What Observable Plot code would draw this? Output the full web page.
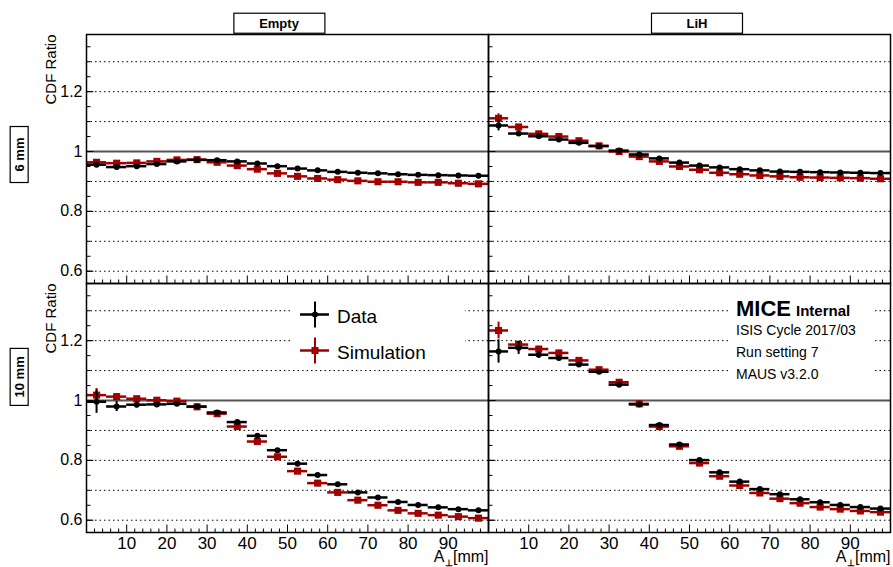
<!DOCTYPE html>
<html>
<head>
<meta charset="utf-8">
<script src="https://cdn.jsdelivr.net/npm/d3@7"></script>
<script src="https://cdn.jsdelivr.net/npm/@observablehq/plot@0.6"></script>
<style>
  html, body { margin: 0; padding: 0; background: #fff; }
  svg { display: block; }
</style>
</head>
<body>
<div id="chart"></div>
<script>
// ---------------- data ----------------
const binCenters = [2.5, 7.5, 12.5, 17.5, 22.5, 27.5, 32.5, 37.5, 42.5, 47.5,
                    52.5, 57.5, 62.5, 67.5, 72.5, 77.5, 82.5, 87.5, 92.5, 97.5];
const binWidth = 5;
const targets = ["Empty", "LiH"];
const amplitudes = ["6 mm", "10 mm"];
const seriesNames = ["Data", "Simulation"];

const emptyData6 = [0.956, 0.948, 0.951, 0.958, 0.967, 0.972, 0.971, 0.967, 0.960, 0.951,
                    0.943, 0.937, 0.932, 0.929, 0.927, 0.924, 0.922, 0.921, 0.920, 0.919];
const emptySim6  = [0.964, 0.961, 0.962, 0.967, 0.972, 0.973, 0.964, 0.953, 0.941, 0.927,
                    0.917, 0.910, 0.906, 0.902, 0.899, 0.899, 0.897, 0.897, 0.894, 0.892];
const lihData6   = [1.087, 1.060, 1.051, 1.040, 1.029, 1.018, 1.003, 0.990, 0.977, 0.963,
                    0.953, 0.947, 0.941, 0.937, 0.933, 0.932, 0.931, 0.930, 0.929, 0.928];
const lihSim6    = [1.111, 1.082, 1.059, 1.050, 1.036, 1.019, 1.000, 0.983, 0.967, 0.950,
                    0.939, 0.929, 0.924, 0.920, 0.917, 0.914, 0.913, 0.912, 0.911, 0.909];
const emptyData10 = [0.996, 0.980, 0.986, 0.987, 0.989, 0.980, 0.960, 0.928, 0.882, 0.834,
                     0.789, 0.751, 0.720, 0.693, 0.676, 0.661, 0.651, 0.643, 0.637, 0.633];
const emptySim10  = [1.018, 1.013, 1.006, 1.001, 0.998, 0.979, 0.956, 0.913, 0.863, 0.812,
                     0.764, 0.724, 0.693, 0.667, 0.650, 0.633, 0.623, 0.617, 0.612, 0.607];
const lihData10   = [1.164, 1.176, 1.153, 1.142, 1.120, 1.096, 1.053, 0.987, 0.918, 0.853,
                     0.801, 0.760, 0.729, 0.704, 0.687, 0.670, 0.660, 0.651, 0.644, 0.639];
const lihSim10    = [1.234, 1.187, 1.172, 1.159, 1.134, 1.103, 1.061, 0.989, 0.913, 0.847,
                     0.791, 0.747, 0.716, 0.691, 0.672, 0.657, 0.644, 0.637, 0.631, 0.627];

const emptyDataErr6 = [0.008, 0.006, 0.005, 0.004, 0.004, 0.004, 0.003, 0.003, 0.003, 0.003,
                       0.003, 0.003, 0.003, 0.003, 0.003, 0.003, 0.003, 0.003, 0.003, 0.003];
const emptySimErr6  = [0.006, 0.005, 0.004, 0.004, 0.003, 0.003, 0.003, 0.003, 0.003, 0.003,
                       0.003, 0.003, 0.003, 0.003, 0.003, 0.003, 0.003, 0.003, 0.003, 0.003];
const lihDataErr6   = [0.018, 0.009, 0.006, 0.005, 0.004, 0.004, 0.004, 0.003, 0.003, 0.003,
                       0.003, 0.003, 0.003, 0.003, 0.003, 0.003, 0.003, 0.003, 0.003, 0.003];
const lihSimErr6    = [0.015, 0.008, 0.006, 0.005, 0.004, 0.004, 0.003, 0.003, 0.003, 0.003,
                       0.003, 0.003, 0.003, 0.003, 0.003, 0.003, 0.003, 0.003, 0.003, 0.003];
const emptyDataErr10 = [0.039, 0.017, 0.010, 0.008, 0.006, 0.005, 0.005, 0.004, 0.004, 0.004,
                        0.004, 0.004, 0.004, 0.004, 0.004, 0.004, 0.004, 0.004, 0.004, 0.004];
const emptySimErr10  = [0.022, 0.010, 0.007, 0.006, 0.005, 0.004, 0.004, 0.004, 0.004, 0.004,
                        0.004, 0.004, 0.004, 0.004, 0.004, 0.004, 0.004, 0.004, 0.004, 0.004];
const lihDataErr10   = [0.039, 0.022, 0.012, 0.009, 0.007, 0.006, 0.005, 0.005, 0.004, 0.004,
                        0.004, 0.004, 0.004, 0.004, 0.004, 0.004, 0.004, 0.004, 0.004, 0.004];
const lihSimErr10    = [0.028, 0.011, 0.008, 0.007, 0.006, 0.005, 0.005, 0.004, 0.004, 0.004,
                        0.004, 0.004, 0.004, 0.004, 0.004, 0.004, 0.004, 0.004, 0.004, 0.004];

const yLabelTicks = [0.6, 0.8, 1, 1.2];
const yMinorTicks = [0.6, 0.65, 0.7, 0.75, 0.8, 0.85, 0.9, 0.95, 1.0, 1.05, 1.1, 1.15, 1.2, 1.25, 1.3, 1.35];
const gridValues = [0.6, 0.7, 0.8, 0.9, 1.1, 1.2, 1.3];
const xLabelTicks = [10, 20, 30, 40, 50, 60, 70, 80, 90];
const xMinorTicks = [2, 4, 6, 8, 12, 14, 16, 18, 22, 24, 26, 28, 32, 34, 36, 38, 42, 44, 46, 48,
                     52, 54, 56, 58, 62, 64, 66, 68, 72, 74, 76, 78, 82, 84, 86, 88, 92, 94, 96, 98];
const annotationLines = ["ISIS Cycle 2017/03", "Run setting 7", "MAUS v3.2.0"];

// ---------------- table ----------------
const panels = [
  {target: "Empty", amp: "6 mm",  data: emptyData6,  dataErr: emptyDataErr6,  sim: emptySim6,  simErr: emptySimErr6},
  {target: "LiH",   amp: "6 mm",  data: lihData6,    dataErr: lihDataErr6,    sim: lihSim6,    simErr: lihSimErr6},
  {target: "Empty", amp: "10 mm", data: emptyData10, dataErr: emptyDataErr10, sim: emptySim10, simErr: emptySimErr10},
  {target: "LiH",   amp: "10 mm", data: lihData10,   dataErr: lihDataErr10,   sim: lihSim10,   simErr: lihSimErr10}
];
const rows = [];
for (const p of panels) {
  for (const [series, vals, errs] of [["Data", p.data, p.dataErr], ["Simulation", p.sim, p.simErr]]) {
    binCenters.forEach((c, i) => rows.push({
      target: p.target, amp: p.amp, series,
      x: c, lo: c - binWidth / 2, hi: c + binWidth / 2,
      y: vals[i], err: errs[i]
    }));
  }
}
const dataRows = rows.filter(d => d.series === "Data");
const simRows = rows.filter(d => d.series === "Simulation");
const yLabelRows = amplitudes.flatMap(a => yLabelTicks.map(v => ({amp: a, target: "Empty", v})));
const xLabelRows = targets.flatMap(t => xLabelTicks.map(v => ({amp: "10 mm", target: t, v})));

// ---------------- layout ----------------
const W = 893, H = 567, mL = 85, mR = 3, mT = 33, mB = 35;
const colW = (W - mL - mR) / 2, rowH = (H - mT - mB) / 2;
const FONT = "'Liberation Sans', Arial, Helvetica, sans-serif";
const RED = "#a00000";

const errorBars = (rowsIn, color) => [
  Plot.ruleY(rowsIn, {fx: "target", fy: "amp", y: "y", x1: "lo", x2: "hi", stroke: color, strokeWidth: 2.5}),
  Plot.ruleX(rowsIn, {fx: "target", fy: "amp", x: "x", y1: d => d.y - d.err, y2: d => d.y + d.err, stroke: color, strokeWidth: 2})
];

const plot = Plot.plot({
  width: W, height: H,
  marginLeft: mL, marginRight: mR, marginTop: mT, marginBottom: mB,
  style: {fontFamily: FONT, fontSize: "16px", color: "#000", background: "#fff"},
  fx: {domain: targets, padding: 0, axis: null},
  fy: {domain: amplitudes, padding: 0, axis: null},
  x: {domain: [0, 100], axis: null},
  y: {domain: [0.559, 1.391], axis: null},
  marks: [
    Plot.ruleY(gridValues, {y: d => d, stroke: "#000", strokeWidth: 1, strokeDasharray: "1.5,3"}),
    Plot.ruleY([1], {y: d => d, stroke: "#555", strokeWidth: 2}),
    // inward ticks in every panel
    Plot.tickY(yMinorTicks, {y: d => d, insetRight: colW - 5, stroke: "#000", strokeWidth: 1}),
    Plot.tickY(yLabelTicks, {y: d => d, insetRight: colW - 8, stroke: "#000", strokeWidth: 1}),
    Plot.tickX(xMinorTicks, {x: d => d, insetTop: rowH - 4, stroke: "#000", strokeWidth: 1}),
    Plot.tickX(xLabelTicks, {x: d => d, insetTop: rowH - 8, stroke: "#000", strokeWidth: 1}),
    // tick labels
    Plot.text(yLabelRows, {fx: "target", fy: "amp", y: "v", text: d => String(d.v), frameAnchor: "left",
      textAnchor: "end", dx: -4, fontSize: 16}),
    Plot.text(xLabelRows, {fx: "target", fy: "amp", x: "v", text: d => String(d.v), frameAnchor: "bottom",
      lineAnchor: "top", dy: 4, fontSize: 17}),
    // series
    ...errorBars(simRows, RED),
    Plot.dot(simRows, {fx: "target", fy: "amp", x: "x", y: "y", symbol: "square", r: 4, fill: RED, stroke: "none"}),
    ...errorBars(dataRows, "#000"),
    Plot.dot(dataRows, {fx: "target", fy: "amp", x: "x", y: "y", r: 3, fill: "#000", stroke: "none"}),
    Plot.frame({stroke: "#000", strokeWidth: 1.5}),
    // y axis titles
    Plot.text(amplitudes, {fy: d => d, fx: () => "Empty", frameAnchor: "top-left", text: () => "CDF Ratio",
      rotate: -90, textAnchor: "end", dx: -41.5, dy: 0, fontSize: 15}),
    // x axis titles: A⊥[mm]
    Plot.text(targets, {fx: d => d, fy: () => "10 mm", frameAnchor: "bottom-right", text: () => "[mm]",
      textAnchor: "end", lineAnchor: "bottom", dx: 0, dy: 29, fontSize: 16}),
    Plot.text(targets, {fx: d => d, fy: () => "10 mm", frameAnchor: "bottom-right", text: () => "A",
      textAnchor: "end", lineAnchor: "bottom", dx: -44, dy: 29, fontSize: 16}),
    Plot.text(targets, {fx: d => d, fy: () => "10 mm", frameAnchor: "bottom-right", text: () => "\u22A5",
      textAnchor: "middle", lineAnchor: "bottom", dx: -40, dy: 33, fontSize: 9, fontWeight: "bold"}),
    // facet labels (columns)
    Plot.text(["Empty"], {fx: d => d, fy: () => "6 mm", frameAnchor: "top", text: d => d,
      dx: -8.5, dy: -16, fontSize: 13, fontWeight: "bold"}),
    Plot.text(["LiH"], {fx: d => d, fy: () => "6 mm", frameAnchor: "top", text: d => d,
      dx: 7.5, dy: -16, fontSize: 13, fontWeight: "bold"}),
    // facet labels (rows)
    Plot.text(["6 mm"], {fy: d => d, fx: () => "Empty", frameAnchor: "left", text: d => d,
      rotate: -90, dx: -67, dy: 12.5, fontSize: 13, fontWeight: "bold"}),
    Plot.text(["10 mm"], {fy: d => d, fx: () => "Empty", frameAnchor: "left", text: d => d,
      rotate: -90, dx: -67, dy: -10.5, fontSize: 13, fontWeight: "bold"})
  ]
});

document.getElementById("chart").appendChild(plot);

// ---------------- decorations ----------------
const svg = d3.select(plot);
const svgRect = plot.getBoundingClientRect();
const boxSize = {"Empty": [91, 20], "LiH": [91, 20], "6 mm": [18, 56], "10 mm": [18, 57]};
const boxes = [];
svg.selectAll("text").each(function () {
  const t = this.textContent;
  if (boxSize[t]) {
    const r = this.getBoundingClientRect();
    boxes.push({t, cx: r.left - svgRect.left + r.width / 2, cy: r.top - svgRect.top + r.height / 2});
  }
});
for (const b of boxes) {
  const [bw, bh] = boxSize[b.t];
  svg.append("rect").attr("x", b.cx - bw / 2).attr("y", b.cy - bh / 2)
    .attr("width", bw).attr("height", bh)
    .attr("fill", "none").attr("stroke", "#000").attr("stroke-width", 1.2);
}

// Legend in the bottom-left panel
const blX = mL, blY = mT + rowH;
const leg = svg.append("g").attr("font-family", FONT).attr("text-anchor", "start");
leg.append("rect").attr("x", blX + 208).attr("y", blY + 13).attr("width", 172).attr("height", 72).attr("fill", "#fff");
const legendItems = [
  {name: seriesNames[0], color: "#000", cy: blY + 32, ty: blY + 40, shape: "circle"},
  {name: seriesNames[1], color: RED, cy: blY + 68, ty: blY + 76, shape: "square"}
];
for (const it of legendItems) {
  const cx = blX + 230;
  leg.append("line").attr("x1", cx - 15).attr("x2", cx + 14).attr("y1", it.cy).attr("y2", it.cy)
    .attr("stroke", it.color).attr("stroke-width", 2.5);
  leg.append("line").attr("x1", cx).attr("x2", cx).attr("y1", it.cy - 13).attr("y2", it.cy + 13)
    .attr("stroke", it.color).attr("stroke-width", 2);
  if (it.shape === "circle") leg.append("circle").attr("cx", cx).attr("cy", it.cy).attr("r", 3).attr("fill", it.color);
  else leg.append("rect").attr("x", cx - 3.5).attr("y", it.cy - 3.5).attr("width", 7).attr("height", 7).attr("fill", it.color);
  leg.append("text").attr("x", blX + 252).attr("y", it.ty).attr("font-size", 19).attr("fill", "#000").text(it.name);
}

// Annotation in the bottom-right panel
const brX = mL + colW, brY = mT + rowH;
const ann = svg.append("g").attr("font-family", FONT).attr("fill", "#000").attr("text-anchor", "start");
ann.append("rect").attr("x", brX + 241).attr("y", brY + 10).attr("width", 145).attr("height", 94).attr("fill", "#fff");
const title = ann.append("text").attr("x", brX + 248.5).attr("y", brY + 33);
title.append("tspan").attr("font-size", 22).attr("font-weight", "bold").text("MICE");
title.append("tspan").attr("font-size", 15).attr("font-weight", "bold").attr("dx", 5).text("Internal");
annotationLines.forEach((s, i) => {
  ann.append("text").attr("x", brX + 248.5).attr("y", brY + 52 + i * 22).attr("font-size", 14).text(s);
});
</script>
</body>
</html>
